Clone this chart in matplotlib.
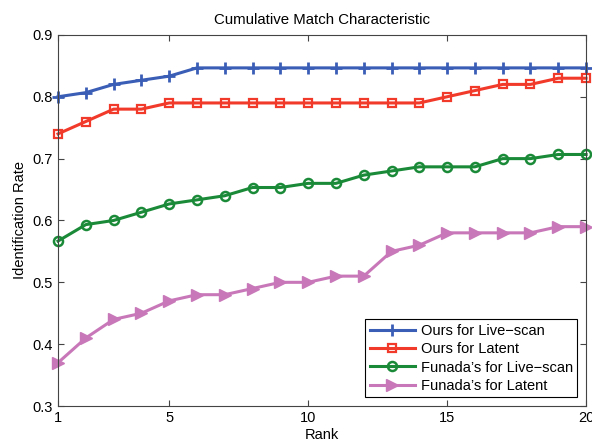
import matplotlib
matplotlib.use("Agg")
from matplotlib import pyplot as plt

plt.rcParams["font.family"] = ["Liberation Sans", "DejaVu Sans"]

ranks = list(range(1, 21))
ours_live = [0.8, 0.8067, 0.82, 0.8267, 0.8333] + [0.8467] * 15
ours_latent = [0.74, 0.76, 0.78, 0.78, 0.79, 0.79, 0.79, 0.79, 0.79, 0.79,
               0.79, 0.79, 0.79, 0.79, 0.80, 0.81, 0.82, 0.82, 0.83, 0.83]
funada_live = [0.5667, 0.5933, 0.60, 0.6133, 0.6267, 0.6333, 0.64, 0.6533, 0.6533, 0.66,
               0.66, 0.6733, 0.68, 0.6867, 0.6867, 0.6867, 0.70, 0.70, 0.7067, 0.7067]
funada_latent = [0.37, 0.41, 0.44, 0.45, 0.47, 0.48, 0.48, 0.49, 0.50, 0.50,
                 0.51, 0.51, 0.55, 0.56, 0.58, 0.58, 0.58, 0.58, 0.59, 0.59]

x_ticks = [1, 5, 10, 15, 20]
y_ticks = [0.3, 0.4, 0.5, 0.6, 0.7, 0.8, 0.9]

fig = plt.figure(figsize=(5.92, 4.42), dpi=100)
ax = fig.add_axes([0.098, 0.0814, 0.892, 0.8396])

ax.plot(ranks, ours_live, color="#3a5db5", lw=2.2, marker="+", ms=8, mew=2,
        clip_on=False, label="Ours for Live\u2212scan")
ax.plot(ranks, ours_latent, color="#f23a2b", lw=2.2, marker="s", ms=6, mew=1.6,
        mfc="none", clip_on=False, label="Ours for Latent")
ax.plot(ranks, funada_live, color="#1a8a38", lw=2.2, marker="o", ms=6.5, mew=1.8,
        mfc="none", clip_on=False, label="Funada\u2019s for Live\u2212scan")
ax.plot(ranks, funada_latent, color="#c878b8", lw=2.2, marker=">", ms=9,
        clip_on=False, label="Funada\u2019s for Latent")

ax.set_xlim(1, 20)
ax.set_ylim(0.3, 0.9)
ax.set_xticks(x_ticks)
ax.set_yticks(y_ticks)
ax.set_yticklabels([f"{v:.1f}" for v in y_ticks])
ax.tick_params(direction="in", top=True, right=True, labelsize=10.5, length=4,
               color="#444444")
for s in ax.spines.values():
    s.set_color("#444444")
ax.set_title("Cumulative Match Characteristic", fontsize=10.8, pad=8)
ax.set_xlabel("Rank", fontsize=10.5, labelpad=2)
ax.set_ylabel("Identification Rate", fontsize=10.5)

leg = ax.legend(loc="lower right", fontsize=10.5, fancybox=False, framealpha=1,
                edgecolor="black", handlelength=3.1, borderaxespad=0.6,
                labelspacing=0.3, borderpad=0.3, handletextpad=0.4)
leg.get_frame().set_linewidth(0.8)

plt.savefig("out.png", dpi=100)
